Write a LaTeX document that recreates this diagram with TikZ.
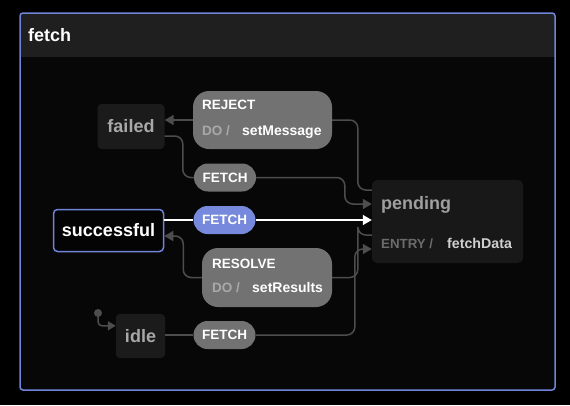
\documentclass[tikz,border=0pt]{standalone}
\usepackage{fontspec}
\setmainfont{Liberation Sans}
\usetikzlibrary{arrows.meta,calc}
\definecolor{bgc}{HTML}{000000}
\definecolor{innerc}{HTML}{070707}
\definecolor{hdrc}{HTML}{1F1F1F}
\definecolor{framec}{HTML}{6F84D8}
\definecolor{statec}{HTML}{1B1B1B}
\definecolor{statetxt}{HTML}{A8A8A8}
\definecolor{edgec}{HTML}{4D4D4D}
\definecolor{pillc}{HTML}{727272}
\definecolor{bluepill}{HTML}{7689DC}
\definecolor{dotxt}{HTML}{A9A9A9}
\definecolor{entrytxt}{HTML}{6B6B6B}
\definecolor{actiontxt}{HTML}{D0D0D0}
\tikzset{
  statebox/.style={fill=statec, rounded corners=4pt, inner sep=0pt, text=statetxt,
    font=\fontsize{18}{20}\selectfont\bfseries},
  pill/.style={fill=pillc, rounded corners=14pt, minimum width=62pt, minimum height=28pt,
    inner sep=0pt, text=white, font=\fontsize{13.5}{15}\selectfont\bfseries},
  actbox/.style={fill=pillc, rounded corners=16pt, inner sep=0pt},
  evtxt/.style={anchor=base west, inner sep=0pt, text=white, font=\fontsize{13.5}{15}\selectfont\bfseries},
  dotxtst/.style={anchor=base west, inner sep=0pt, text=dotxt, font=\fontsize{13.5}{15}\selectfont\bfseries},
  acttxt/.style={anchor=base west, inner sep=0pt, text=white, font=\fontsize{14}{15}\selectfont\bfseries},
  edge/.style={draw=edgec, line width=1.5pt, rounded corners=8pt},
  tip/.style={-{Triangle[length=9pt,width=10pt]}},
}
\begin{document}
\begin{tikzpicture}[x=1pt,y=-1pt]
\useasboundingbox (0,0) rectangle (570,405);
\fill[bgc] (0,0) rectangle (570,405);
% outer compound state
\fill[innerc, rounded corners=3pt] (20,13) rectangle (555,390);
\fill[hdrc, rounded corners=3pt] (20,13) rectangle (555,40);
\fill[hdrc] (20,30) rectangle (555,57);
\draw[framec, line width=1.5pt, rounded corners=3pt] (20,13) rectangle (555,390);
\node[anchor=base west, inner sep=0pt, text=white, font=\fontsize{18}{20}\selectfont\bfseries] (fetchlbl) at (28,41) {fetch};

% states
\node[statebox, minimum width=67pt, minimum height=45pt] (failed) at (131,126.5) {failed};
\node[statebox, draw=framec, line width=1.5pt, text=white, fill=black!85!statec, minimum width=110pt, minimum height=42pt] (successful) at (108.5,230.5) {successful};
\node[statebox, minimum width=49pt, minimum height=44pt] (idle) at (140.5,336) {idle};
\node[statebox, rounded corners=5pt, fill=statec!90!black, minimum width=151pt, minimum height=83pt] (pending) at (447.5,221.5) {};
\node[anchor=base west, inner sep=0pt, text=statetxt!110!white, font=\fontsize{18}{20}\selectfont\bfseries] (pendinglbl) at (381,209) {pending};
\node[anchor=base west, inner sep=0pt, text=entrytxt, font=\fontsize{13.3}{15}\selectfont\bfseries] (entrylbl) at (381,248) {ENTRY /};
\node[anchor=base west, inner sep=0pt, text=actiontxt, font=\fontsize{14.2}{15}\selectfont\bfseries] (fetchdata) at (447,248) {fetchData};

% transition boxes
\node[actbox, minimum width=139pt, minimum height=58pt] (reject) at (262.5,120) {};
\node[evtxt] (rejectlbl) at (202,109) {REJECT};
\node[dotxtst] (rejectdo) at (202,135) {DO /};
\node[acttxt] (setmessage) at (242,135) {setMessage};

\node[actbox, minimum width=130pt, minimum height=59pt] (resolve) at (267,277.5) {};
\node[evtxt] (resolvelbl) at (212,268) {RESOLVE};
\node[dotxtst] (resolvedo) at (212,292) {DO /};
\node[acttxt] (setresults) at (252,292) {setResults};

\node[pill] (fetchA) at (225,177.5) {FETCH};
\node[pill, fill=bluepill, minimum height=28pt] (fetchB) at (224.5,220) {FETCH};
\node[pill] (fetchC) at (224.5,335) {FETCH};

% initial marker
\fill[edgec] (98,313) circle (4pt) coordinate (init);

% edges
% pending -> failed via REJECT
\draw[edge] ($(pending.west)+(0,-31.5)$) -- ++(-14,0) |- (reject.east);
\draw[edge, tip] (reject.west) -- (reject.west -| failed.east);
% failed -> pending via FETCH
\draw[edge] ($(failed.east)+(0,9.5)$) -| ($(fetchA.west)+(-11,0)$) -- (fetchA.west);
\draw[edge, tip] (fetchA.east) -| ($(pending.west)+(-27,-17.5)$) -- ($(pending.west)+(0,-17.5)$);
% successful -> pending via FETCH (active)
\draw[white, line width=1.5pt] ($(successful.east)+(0,-10.5)$) -- (fetchB.west);
\draw[white, line width=1.5pt, tip] (fetchB.east) -- ($(pending.west)+(0,-1.5)$);
% pending -> successful via RESOLVE
\draw[edge] ($(pending.west)+(0,13.5)$) -- ++(-14,0) -- ++(0,0) |- (resolve.east);
\draw[edge, tip] (resolve.west) -| ($(successful.east)+(19,5.5)$) -- ($(successful.east)+(0,5.5)$);
% idle -> pending via FETCH
\draw[edge] (idle.east |- fetchC.west) -- (fetchC.west);
\draw[edge, tip] (fetchC.east) -| ($(pending.west)+(-17,27.5)$) -- ($(pending.west)+(0,27.5)$);
% initial
\draw[edge, rounded corners=4pt, -{Triangle[length=8pt,width=9pt]}] (init) |- ($(idle.north west)+(0,12)$);
\end{tikzpicture}
\end{document}
